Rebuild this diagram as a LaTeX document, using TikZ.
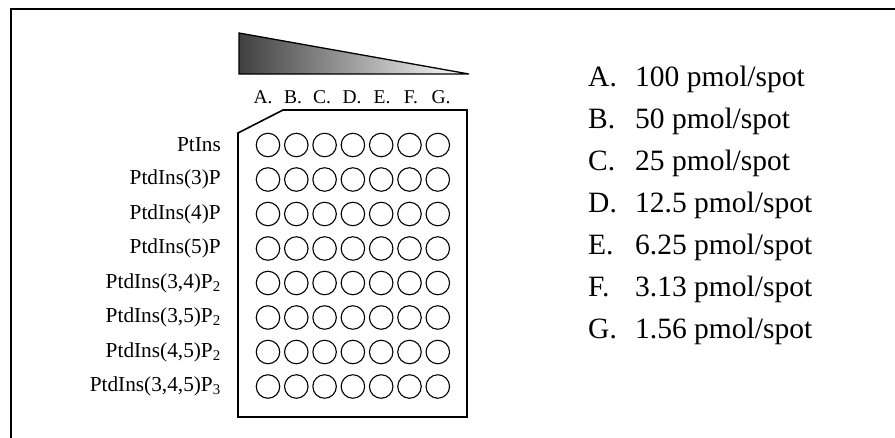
\documentclass[tikz,border=0pt]{standalone}
\usepackage{fontspec}
\setmainfont{Liberation Serif}

\begin{document}
\begin{tikzpicture}
      [x=1pt,y=-1pt,%%%%%%%%%%%%%%%%%%%%%%%%%%%%%%
      spot/.style={circle,draw=black,line width=1.1pt,minimum size=23.5pt,inner sep=0pt},
      rowlabel/.style={anchor=east,inner sep=0pt,font=\fontsize{21.3}{25}\selectfont},
      collabel/.style={anchor=base,inner sep=0pt,font=\fontsize{19.5}{23}\selectfont},
      conclabel/.style={anchor=base west,inner sep=0pt,font=\fontsize{29.5}{35}\selectfont},
      ]%%%%%%%%%%%%%%%%%%%%%%%%%%%%%%
      \useasboundingbox (0,0) rectangle (895,437);

      % frame
      \draw[line width=1.8pt] (11,440) -- (11,9) -- (900,9);

      % gradient wedge
      \shade[left color=black!75,right color=white] (239,33) -- (239,74) -- (469,74) -- cycle;
      \draw[line width=1.3pt] (239,33) -- (469,74) -- (239,74) -- cycle;

      % column labels
      \node[collabel] (colA) at (263,103) {A.};
      \node[collabel] (colB) at (293,103) {B.};
      \node[collabel] (colC) at (322,103) {C.};
      \node[collabel] (colD) at (352,103) {D.};
      \node[collabel] (colE) at (382,103) {E.};
      \node[collabel] (colF) at (411,103) {F.};
      \node[collabel] (colG) at (441,103) {G.};

      % plate
      \draw[line width=1.6pt] (283,110) -- (467,110) -- (467,417) -- (238,417) -- (238,133) -- cycle;

      % spots
      \foreach \r in {1,...,8}
        \foreach \c in {1,...,7}
          \node[spot] (s-\r-\c) at (268+28.3*\c-28.3,145+34.5*\r-34.5) {};

      % row labels
      \node[rowlabel] (row1) at (221,145) {PtIns};
      \node[rowlabel] (row2) at (221,179.5) {PtdIns(3)P};
      \node[rowlabel] (row3) at (221,214) {PtdIns(4)P};
      \node[rowlabel] (row4) at (221,248.5) {PtdIns(5)P};
      \node[rowlabel] (row5) at (221,283) {PtdIns(3,4)P\textsubscript{2}};
      \node[rowlabel] (row6) at (221,317.5) {PtdIns(3,5)P\textsubscript{2}};
      \node[rowlabel] (row7) at (221,352) {PtdIns(4,5)P\textsubscript{2}};
      \node[rowlabel] (row8) at (221,386.5) {PtdIns(3,4,5)P\textsubscript{3}};

      % concentrations
      \node[conclabel] (keyA) at (588,86) {A.};
      \node[conclabel] (concA) at (635,86) {100 pmol/spot};
      \node[conclabel] (keyB) at (588,128) {B.};
      \node[conclabel] (concB) at (635,128) {50 pmol/spot};
      \node[conclabel] (keyC) at (588,170) {C.};
      \node[conclabel] (concC) at (635,170) {25 pmol/spot};
      \node[conclabel] (keyD) at (588,212) {D.};
      \node[conclabel] (concD) at (635,212) {12.5 pmol/spot};
      \node[conclabel] (keyE) at (588,254) {E.};
      \node[conclabel] (concE) at (635,254) {6.25 pmol/spot};
      \node[conclabel] (keyF) at (588,296) {F.};
      \node[conclabel] (concF) at (635,296) {3.13 pmol/spot};
      \node[conclabel] (keyG) at (588,338) {G.};
      \node[conclabel] (concG) at (635,338) {1.56 pmol/spot};
    \end{tikzpicture}
\end{document}
